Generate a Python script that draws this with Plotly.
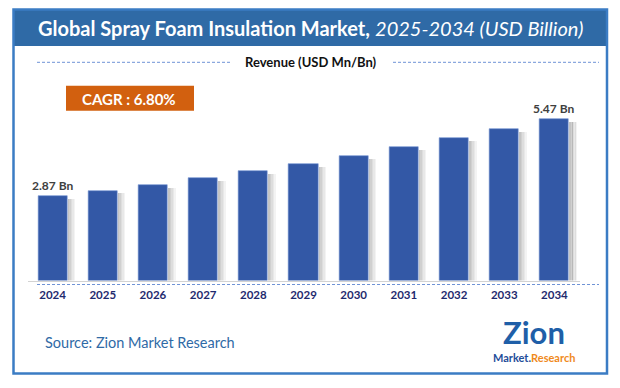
import plotly.graph_objects as go

years = ["2024", "2025", "2026", "2027", "2028", "2029", "2030", "2031", "2032", "2033", "2034"]
revenue = [2.87, 3.05, 3.25, 3.46, 3.71, 3.95, 4.22, 4.53, 4.82, 5.13, 5.47]
labels = ["2.87 Bn", "", "", "", "", "", "", "", "", "", "5.47 Bn"]
title_main = "Global Spray Foam Insulation Market,"
title_sub = "2025-2034 (USD Billion)"
legend_text = "Revenue (USD Mn/Bn)"
cagr_text = "CAGR : 6.80%"
source_text = "Source: Zion Market Research"

W, H = 620, 388
FONT = "Lato"


def px(x):
    return x / W


def py(y):
    return 1 - y / H


BAR = "#3358A6"
BASE_Y = 280.5
TOP_Y = 100.0
PX_PER_UNIT = 29.5
ymax = (BASE_Y - TOP_Y) / PX_PER_UNIT

fig = go.Figure()

# soft shadow strips to the right of each bar
shadow_steps = [(0.29, 0.38), (0.32, 0.30), (0.35, 0.22), (0.38, 0.15), (0.41, 0.08)]
for off, op in shadow_steps:
    fig.add_trace(go.Bar(
        x=years, y=[v - 0.1 for v in revenue], width=0.031, offset=off,
        marker=dict(color=f"rgba(100,100,100,{op})", line=dict(width=0)),
        hoverinfo="skip", showlegend=False,
    ))

fig.add_trace(go.Bar(
    x=years, y=revenue, width=0.58, offset=-0.29,
    marker=dict(color=BAR, line=dict(width=0.6, color="#6F8FD0")),
    text=[f"<b>{t}</b>" if t else "" for t in labels],
    textposition="outside", cliponaxis=False,
    textfont=dict(family=FONT, size=12, color="#404040"),
    showlegend=False,
))

DASH = "3px,2px"
shapes = []
# frame
shapes.append(dict(type="rect", xref="paper", yref="paper",
                   x0=px(13.5), x1=px(607), y0=py(373.5), y1=py(9.5),
                   line=dict(color="#3B7CC4", width=2.5), fillcolor="rgba(0,0,0,0)", layer="above"))
# title band
shapes.append(dict(type="rect", xref="paper", yref="paper",
                   x0=px(13.5), x1=px(607), y0=py(46), y1=py(9.5),
                   line=dict(width=0), fillcolor="#2F6AA6", layer="below"))
# legend dashed lines
for x0, x1 in [(37, 232), (393, 599)]:
    shapes.append(dict(type="line", xref="paper", yref="paper",
                       x0=px(x0), x1=px(x1), y0=py(62.3), y1=py(62.3),
                       line=dict(color="#6F93D6", width=1, dash=DASH)))
# dashed line below axis
shapes.append(dict(type="line", xref="paper", yref="paper",
                   x0=px(37), x1=px(599), y0=py(284.5), y1=py(284.5),
                   line=dict(color="#6F93D6", width=1, dash=DASH)))
# CAGR box
shapes.append(dict(type="rect", xref="paper", yref="paper",
                   x0=px(66), x1=px(194), y0=py(110.7), y1=py(85.7),
                   line=dict(width=0), fillcolor="#D2600F"))

annotations = [
    dict(text=f"<b>{title_main}</b> <i>{title_sub}</i>", xref="paper", yref="paper",
         x=px(310), y=py(28), xanchor="center", yanchor="middle", showarrow=False,
         font=dict(family=FONT, size=20, color="white")),
    dict(text=f"<b>{legend_text}</b>", xref="paper", yref="paper",
         x=px(311), y=py(62), xanchor="center", yanchor="middle", showarrow=False,
         font=dict(family=FONT, size=13, color="#111111")),
    dict(text=f"<b>{cagr_text}</b>", xref="paper", yref="paper",
         x=px(129), y=py(98.5), xanchor="center", yanchor="middle", showarrow=False,
         font=dict(family=FONT, size=15, color="white")),
    dict(text=source_text, xref="paper", yref="paper",
         x=px(43), y=py(342), xanchor="left", yanchor="middle", showarrow=False,
         font=dict(family=FONT, size=14.5, color="#2F6AA6")),
    dict(text="<b>Zion</b>", xref="paper", yref="paper",
         x=px(534), y=py(332), xanchor="center", yanchor="middle", showarrow=False,
         font=dict(family=FONT, size=31, color="#1F5FA8")),
    dict(text="<b><span style='color:#1F4E9A'>Market.</span><span style='color:#F08A1C'>Research</span></b>",
         xref="paper", yref="paper",
         x=px(534), y=py(357.5), xanchor="center", yanchor="middle", showarrow=False,
         font=dict(family=FONT, size=11, color="#1F4E9A")),
]

fig.update_layout(
    width=W, height=H,
    margin=dict(l=0, r=0, t=0, b=0),
    paper_bgcolor="white", plot_bgcolor="white",
    barmode="overlay", bargap=0,
    shapes=shapes, annotations=annotations,
    xaxis=dict(domain=[px(27.5), px(579.5)], type="category",
               showgrid=False, zeroline=False,
               showline=True, linecolor="#D3D3D3", linewidth=1,
               ticks="", tickfont=dict(family=FONT, size=11.5, color="#1F2A6E"),
               ticklabelstandoff=4, fixedrange=True),
    yaxis=dict(domain=[py(BASE_Y), py(TOP_Y)], range=[0, ymax],
               visible=False, fixedrange=True),
    font=dict(family=FONT),
)
fig.update_traces(selector=dict(type="bar"), constraintext="none")
fig.update_xaxes(tickvals=years, ticktext=[f"<b>{y}</b>" for y in years])

fig.write_html("out.html", config={"displayModeBar": False},
               post_script="document.body.style.margin='0';")
